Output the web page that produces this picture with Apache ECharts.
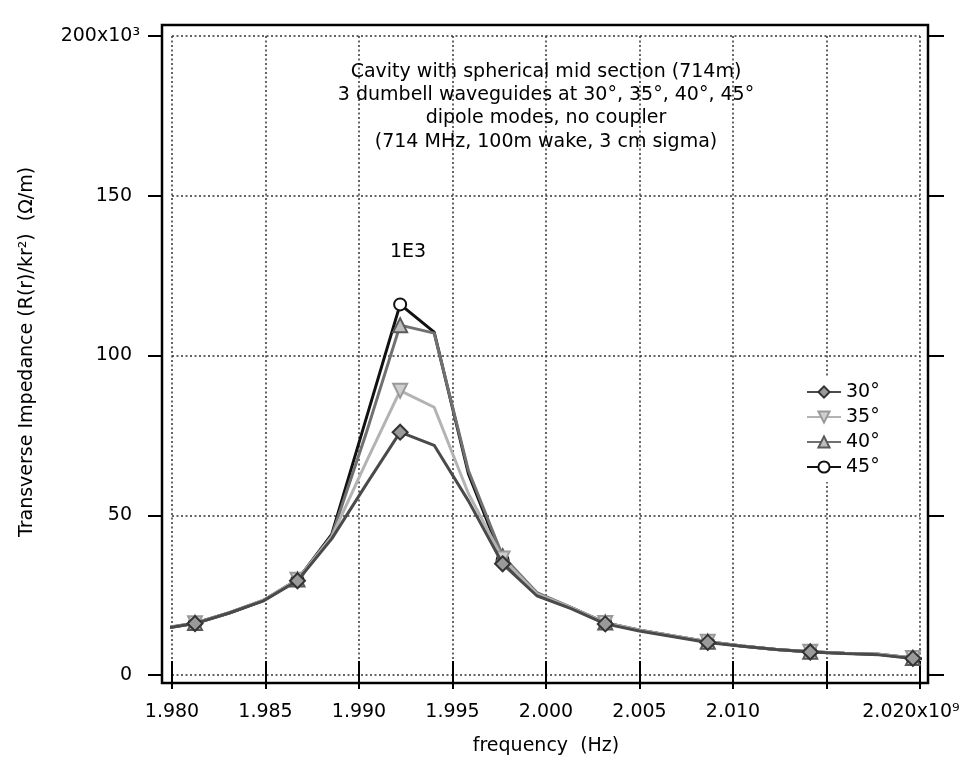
<!DOCTYPE html>
<html><head><meta charset="utf-8">
<script src="https://cdn.jsdelivr.net/npm/echarts@6/dist/echarts.min.js"></script>
<style>html,body{margin:0;padding:0;background:#fff}#c{width:968px;height:764px}</style>
</head><body><div id="c"></div>
<script>
// frequency of each computed point (GHz)
const freqGHz = [1.97940, 1.98123, 1.98306, 1.98489, 1.98671, 1.98854, 1.99037, 1.99220, 1.99402, 1.99585, 1.99768, 1.99951, 2.00134, 2.00317, 2.00499, 2.00682, 2.00865, 2.01048, 2.01231, 2.01413, 2.01596, 2.01779, 2.01962, 2.02145];
// transverse impedance (x10^3 Ohm/m)
const z30 = [14.4, 16.1, 19.4, 23.2, 29.5, 42.6, 59.5, 76.0, 71.9, 54.5, 34.8, 24.8, 20.8, 16.0, 13.8, 12.0, 10.2, 9.0, 8.0, 7.2, 6.7, 6.3, 5.2, 4.7];
const z35 = [14.5, 16.2, 19.5, 23.4, 29.8, 43.2, 66.5, 89.0, 83.8, 56.8, 36.5, 25.4, 21.1, 16.3, 14.0, 12.2, 10.4, 9.1, 8.0, 7.3, 6.8, 6.5, 5.3, 4.8];
const z40 = [14.5, 16.3, 19.5, 23.4, 29.9, 43.5, 75.4, 109.5, 107.0, 64.0, 37.2, 25.8, 21.2, 16.4, 14.1, 12.2, 10.4, 9.1, 8.0, 7.3, 6.8, 6.5, 5.3, 4.8];
const z45 = [14.4, 16.2, 19.4, 23.3, 29.8, 44.0, 80.0, 116.0, 107.3, 63.0, 36.0, 25.5, 21.1, 16.3, 14.0, 12.2, 10.4, 9.1, 8.0, 7.3, 6.8, 6.5, 5.3, 4.8];
const seriesNames = ['30°', '35°', '40°', '45°'];
const xTickLabels = ['1.980', '1.985', '1.990', '1.995', '2.000', '2.005', '2.010', '', '2.020x10⁹'];
const yTickLabels = ['0', '50', '100', '150', '200x10³'];
const titleLines = ['Cavity with spherical mid section (714m)', '3 dumbell waveguides at 30°, 35°, 40°, 45°', 'dipole modes, no coupler', '(714 MHz, 100m wake, 3 cm sigma)'];
const peakNote = '1E3';

const FONT = '"DejaVu Sans", "Liberation Sans", sans-serif';
const chart = echarts.init(document.getElementById('c'), null, {renderer: 'canvas'});

function mk(name, vals, symbol, size, lineColor, fill, border, z) {
  return {
    type: 'line', name: name, z: z, clip: true, animation: false,
    symbol: symbol, symbolSize: size, showAllSymbol: true,
    data: freqGHz.map((f, i) => {
      const d = {value: [f * 1000, vals[i]]};
      if (i % 3 !== 1) d.symbol = 'none';
      return d;
    }),
    lineStyle: {color: lineColor, width: 3},
    itemStyle: {color: fill, borderColor: border, borderWidth: 2},
    emphasis: {disabled: true}
  };
}

const splitStyle = {show: true, lineStyle: {color: '#333', width: 1.5, type: [2, 2.5]}};
const tickStyle = {show: true, inside: false, length: 14, lineStyle: {color: '#000', width: 2}};

chart.setOption({
  backgroundColor: '#fff',
  animation: false,
  textStyle: {fontFamily: FONT},
  grid: {left: 172, right: 48, top: 36, bottom: 89, containLabel: false},
  xAxis: [{
    type: 'value', position: 'bottom', min: 1980, max: 2020, interval: 5, offset: 8,
    axisLine: {show: false}, axisTick: tickStyle, splitLine: splitStyle,
    axisLabel: {
      margin: 20, color: '#000', fontSize: 19, fontFamily: FONT,
      formatter: v => {
        const s = xTickLabels[Math.round((v - 1980) / 5)];
        return v === 2020 ? '{r|' + s + '}' : s;
      },
      rich: {r: {fontSize: 19, fontFamily: FONT, color: '#000', padding: [0, 18, 0, 0]}}
    }
  }, {
    type: 'value', position: 'top', min: 1980, max: 2020, interval: 5, offset: 11,
    axisLine: {show: false}, axisTick: tickStyle, splitLine: {show: false}, axisLabel: {show: false}
  }],
  yAxis: [{
    type: 'value', position: 'left', min: 0, max: 200, interval: 50, offset: 10,
    axisLine: {show: false}, axisTick: tickStyle, splitLine: splitStyle,
    axisLabel: {
      margin: 22, color: '#000', fontSize: 19, fontFamily: FONT,
      formatter: v => {
        const s = yTickLabels[Math.round(v / 50)];
        return v === 200 ? '{a|' + s + '}' : '{b|' + s + '}';
      },
      rich: {
        a: {fontSize: 19, fontFamily: FONT, color: '#000'},
        b: {fontSize: 19, fontFamily: FONT, color: '#000', padding: [0, 8, 0, 0]}
      }
    }
  }, {
    type: 'value', position: 'right', min: 0, max: 200, interval: 50, offset: 8,
    axisLine: {show: false}, axisTick: {show: true, inside: false, length: 16, lineStyle: {color: '#000', width: 2}},
    splitLine: {show: false}, axisLabel: {show: false}
  }],
  legend: {
    orient: 'vertical', left: 801, top: 377, itemWidth: 34, itemHeight: 14, itemGap: 5,
    padding: 5, backgroundColor: '#fff', data: seriesNames,
    textStyle: {fontFamily: FONT, fontSize: 19, color: '#000', lineHeight: 20}
  },
  graphic: [
    {type: 'rect', shape: {x: 162, y: 25, width: 766, height: 658}, style: {fill: 'none', stroke: '#000', lineWidth: 2.5}, z: 100, silent: true},
    {type: 'text', x: 546, y: 60, z: 100, silent: true,
     style: {text: titleLines.join('\n'), fontSize: 19, fontFamily: FONT, lineHeight: 23.4, fill: '#000', align: 'center', textAlign: 'center', verticalAlign: 'top', textVerticalAlign: 'top'}},
    {type: 'text', x: 408, y: 252, z: 100, silent: true,
     style: {text: peakNote, fontSize: 19, fontFamily: FONT, fill: '#000', align: 'center', textAlign: 'center', verticalAlign: 'middle', textVerticalAlign: 'middle'}},
    {type: 'text', x: 546, y: 746, z: 100, silent: true,
     style: {text: 'frequency  (Hz)', fontSize: 19, fontFamily: FONT, fill: '#000', align: 'center', textAlign: 'center', verticalAlign: 'middle', textVerticalAlign: 'middle'}},
    {type: 'text', x: 27, y: 352, rotation: Math.PI / 2, z: 100, silent: true,
     style: {text: 'Transverse Impedance (R(r)/kr²)  (Ω/m)', fontSize: 19, fontFamily: FONT, fill: '#000', align: 'center', textAlign: 'center', verticalAlign: 'middle', textVerticalAlign: 'middle'}}
  ],
  series: [
    mk(seriesNames[0], z30, 'diamond', 15, '#4a4a4a', '#9a9a9a', '#333', 6),
    mk(seriesNames[1], z35, 'path://M0,0L10,0L5,9Z', 14, '#b3b3b3', '#cfcfcf', '#9a9a9a', 5),
    mk(seriesNames[2], z40, 'triangle', 14, '#707070', '#bdbdbd', '#5a5a5a', 4),
    mk(seriesNames[3], z45, 'emptyCircle', 12, '#111', '#111', '#111', 3)
  ]
});
</script>
</body></html>
